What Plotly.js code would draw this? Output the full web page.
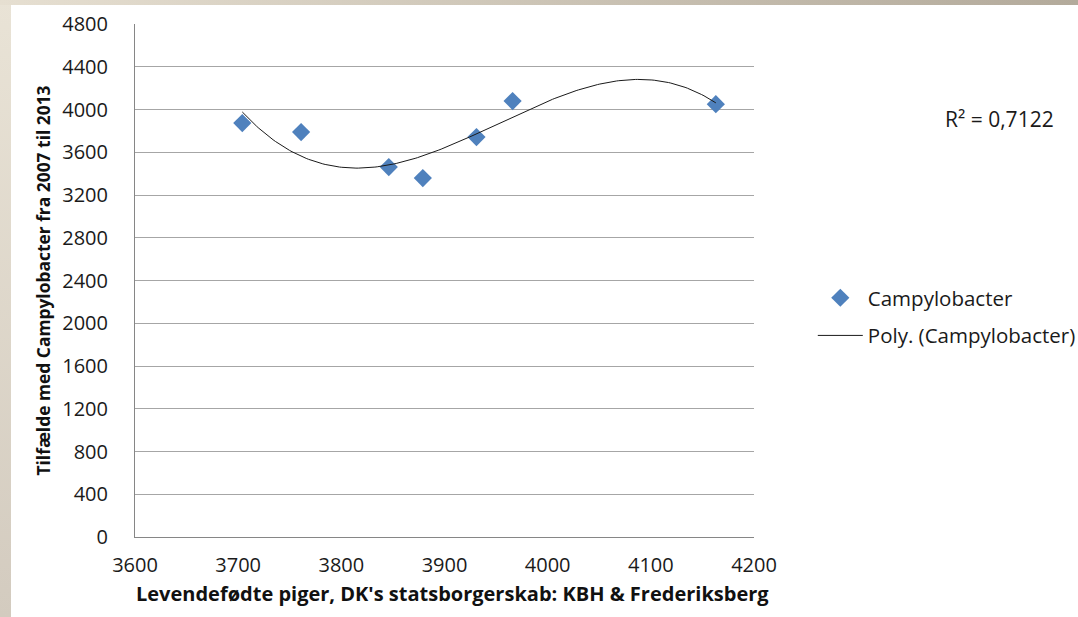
<!DOCTYPE html>
<html>
<head>
<meta charset="utf-8">
<script src="https://cdn.plot.ly/plotly-3.0.1.min.js"></script>
<style>
  html, body { margin: 0; padding: 0; width: 1078px; height: 617px; overflow: hidden; }
  body { background: linear-gradient(to bottom, #e9e3d6, #d3cbbf); position: relative; }
  #topband { position: absolute; left: 0; top: 0; width: 1078px; height: 5px; background: linear-gradient(to right, #e6dfd1, #b3aa9b); }
  #sheet { position: absolute; left: 11px; top: 5px; width: 1067px; height: 612px; background: #ffffff; }
  #chart { position: absolute; left: 0; top: 0; width: 1078px; height: 617px; }
</style>
</head>
<body>
<div id="topband"></div>
<div id="sheet"></div>
<div id="chart"></div>
<script>
// Data
const seriesName = "Campylobacter";
const trendName = "Poly. (Campylobacter)";
const xValues = [3704, 3761, 3846, 3879, 3931, 3966, 4163];
const yValues = [3873, 3789, 3461, 3358, 3742, 4079, 4050];
const rSquaredText = "R² = 0,7122";
const xTicks = [3600, 3700, 3800, 3900, 4000, 4100, 4200];
const yTicks = [0, 400, 800, 1200, 1600, 2000, 2400, 2800, 3200, 3600, 4000, 4400, 4800];
const xTitle = "Levendefødte piger, DK's statsborgerskab: KBH & Frederiksberg";
const yTitle = "Tilfælde med Campylobacter fra 2007 til 2013";

// Cubic least-squares trendline computed from the data (Excel "Poly." order 3)
function polyFit(xs, ys, order) {
  const x0 = xs.reduce((a, b) => a + b, 0) / xs.length;
  const n = order + 1;
  const A = Array.from({length: n}, () => new Array(n + 1).fill(0));
  for (let k = 0; k < xs.length; k++) {
    const t = (xs[k] - x0) / 100;
    const pw = [];
    for (let i = 0; i < 2 * n; i++) pw.push(Math.pow(t, i));
    for (let i = 0; i < n; i++) {
      for (let j = 0; j < n; j++) A[i][j] += pw[i + j];
      A[i][n] += pw[i] * ys[k];
    }
  }
  for (let i = 0; i < n; i++) {
    let p = i;
    for (let r = i + 1; r < n; r++) if (Math.abs(A[r][i]) > Math.abs(A[p][i])) p = r;
    [A[i], A[p]] = [A[p], A[i]];
    for (let r = 0; r < n; r++) {
      if (r === i) continue;
      const f = A[r][i] / A[i][i];
      for (let c = i; c <= n; c++) A[r][c] -= f * A[i][c];
    }
  }
  const coef = A.map((row, i) => row[n] / row[i]);
  return x => {
    const t = (x - x0) / 100;
    let s = 0;
    for (let i = 0; i < n; i++) s += coef[i] * Math.pow(t, i);
    return s;
  };
}
const fit = polyFit(xValues, yValues, 3);
const xMin = Math.min(...xValues), xMax = Math.max(...xValues);
const trendX = [], trendY = [];
for (let i = 0; i <= 200; i++) {
  const x = xMin + (xMax - xMin) * i / 200;
  trendX.push(x);
  trendY.push(fit(x));
}

const FONT = "'Open Sans', 'Noto Sans', sans-serif";

const traces = [
  {
    type: "scatter", mode: "markers", name: seriesName,
    x: xValues, y: yValues,
    marker: {symbol: "diamond", size: 14, color: "#4f81bd"},
    legendgroup: "a", cliponaxis: false
  },
  {
    type: "scatter", mode: "lines", name: trendName,
    x: trendX, y: trendY,
    line: {color: "#1a1a1a", width: 1},
    legendgroup: "b"
  }
];

const layout = {
  width: 1078, height: 617,
  margin: {l: 135, r: 324, t: 24, b: 80, autoexpand: false},
  paper_bgcolor: "rgba(0,0,0,0)",
  plot_bgcolor: "#ffffff",
  font: {family: FONT, size: 18, color: "#1a1a1a"},
  showlegend: true,
  legend: {
    x: 1.095, xanchor: "left", y: 0.505, yanchor: "top",
    bgcolor: "rgba(0,0,0,0)", font: {family: FONT, size: 20.5, color: "#1a1a1a"},
    traceorder: "grouped", tracegroupgap: 8, itemwidth: 45
  },
  xaxis: {
    range: [3600, 4200], tickvals: xTicks, ticktext: xTicks.map(String),
    showgrid: false, zeroline: false, automargin: false,
    showline: true, linecolor: "#868686", linewidth: 1,
    ticks: "outside", ticklen: 10, tickcolor: "rgba(0,0,0,0)",
    tickfont: {family: FONT, size: 20, color: "#1a1a1a"},
    title: {text: "<b>&nbsp;&nbsp;&nbsp;" + xTitle + "</b>", font: {family: FONT, size: 20, color: "#111"}, standoff: 9}
  },
  yaxis: {
    range: [0, 4800], tickvals: yTicks, ticktext: yTicks.map(String),
    showgrid: true, gridcolor: "#a6a6a6", gridwidth: 1, zeroline: false, automargin: false,
    showline: true, linecolor: "#868686", linewidth: 1,
    ticks: "outside", ticklen: 22, tickcolor: "rgba(0,0,0,0)",
    tickfont: {family: FONT, size: 20, color: "#1a1a1a"},
    title: {text: "<b>" + yTitle + "</b>", font: {family: FONT, size: 17.4, color: "#111"}, standoff: 7}
  },
  annotations: [{
    xref: "paper", yref: "paper", x: 1.305, y: 0.815, xanchor: "left", yanchor: "middle",
    text: rSquaredText, showarrow: false,
    font: {family: FONT, size: 21, color: "#1a1a1a"}
  }]
};

Plotly.newPlot("chart", traces, layout, {displayModeBar: false, staticPlot: true});
</script>
</body>
</html>
